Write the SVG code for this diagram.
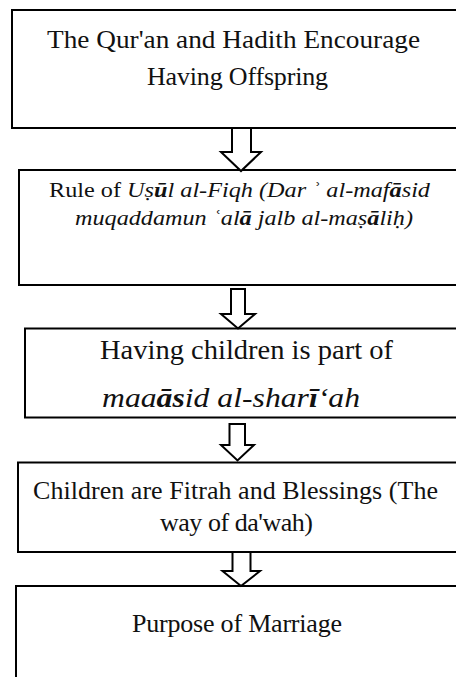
<svg xmlns="http://www.w3.org/2000/svg" width="456" height="677" viewBox="0 0 456 677">
<style>
.box{fill:#fff;stroke:#000;stroke-width:2}
.arr{fill:#fff;stroke:#000;stroke-width:2;stroke-linejoin:miter}
.t{font-family:"Liberation Serif","Times New Roman",serif;fill:#111;font-size:26px}
.s{font-family:"Liberation Serif","Times New Roman",serif;fill:#111;font-size:22px}
.i{font-style:italic}
.b{font-weight:bold}
</style>
<rect width="456" height="677" fill="#fff"/>
<g id="node1">
<rect class="box" x="12" y="10" width="460" height="118"/>
<text class="t" x="47" y="48" textLength="373" lengthAdjust="spacingAndGlyphs">The Qur'an and Hadith Encourage</text>
<text class="t" x="147" y="85" textLength="181" lengthAdjust="spacing">Having Offspring</text>
</g>
<g id="node2">
<rect class="box" x="19" y="170" width="453" height="115"/>
<text class="s" x="49" y="197" textLength="381" lengthAdjust="spacingAndGlyphs">Rule of <tspan class="i">Uṣ<tspan class="b">ū</tspan>l al-Fiqh (Dar ʾ al-maf<tspan class="b">ā</tspan>sid</tspan></text>
<text class="s i" x="75" y="225" textLength="338" lengthAdjust="spacingAndGlyphs">muqaddamun  ʿal<tspan class="b">ā</tspan> jalb al-maṣ<tspan class="b">ā</tspan>liḥ)</text>
</g>
<g id="node3">
<rect class="box" x="25" y="328.5" width="447" height="89"/>
<text class="t" x="100" y="359" textLength="293" lengthAdjust="spacingAndGlyphs" style="font-size:27px">Having children is part of</text>
<text class="t i" x="102" y="407" textLength="258" lengthAdjust="spacingAndGlyphs" style="font-size:28px">maa<tspan class="b">ās</tspan>id al-shar<tspan class="b">ī</tspan>‘ah</text>
</g>
<g id="node4">
<rect class="box" x="18" y="462.5" width="454" height="89.5"/>
<text class="t" x="33" y="499" textLength="405" lengthAdjust="spacing">Children are Fitrah and Blessings (The</text>
<text class="t" x="160" y="531" textLength="153" lengthAdjust="spacing">way of da'wah)</text>
</g>
<g id="node5">
<rect class="box" x="16" y="586" width="456" height="110"/>
<text class="t" x="132" y="632" textLength="210" lengthAdjust="spacing">Purpose of Marriage</text>
</g>
<g id="connectors">
<polygon class="arr" points="232,128 251,128 251,152 261,152 241,171 221,152 232,152"/>
<polygon class="arr" points="231,289 245,289 245,314 255,314 238,328.5 221,314 231,314"/>
<polygon class="arr" points="229.5,424 245,424 245,445 254,445 237.5,460.5 221,445 229.5,445"/>
<polygon class="arr" points="232.5,552 250.5,552 250.5,571 260,571 241,586 222.5,571 232.5,571"/>
</g>
</svg>
